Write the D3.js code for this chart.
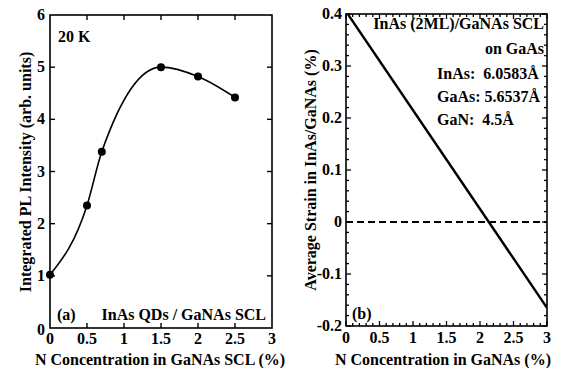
<!DOCTYPE html>
<html><head><meta charset="utf-8">
<script src="https://cdn.jsdelivr.net/npm/d3@7"></script>
<style>
body{margin:0;background:#fff;}
</style></head>
<body><svg id="c" width="567" height="368" font-family="Liberation Serif, serif" font-weight="bold"></svg>
<script>
// Panel (a) data
const plX = [0, 0.5, 0.7, 1.5, 2.0, 2.5];
const plY = [1.02, 2.35, 3.38, 5.0, 4.82, 4.42];
const aXTicks = [0, 0.5, 1, 1.5, 2, 2.5, 3];
const aYTicks = [0, 1, 2, 3, 4, 5, 6];
// Panel (b) data
const strainX = [0, 3];
const strainY = [0.405, -0.165];
const bXTicks = [0, 0.5, 1, 1.5, 2, 2.5, 3];
const bYTicks = [-0.2, -0.1, 0, 0.1, 0.2, 0.3, 0.4];
const bYLabels = ["-0.2", "-0.1", "0", "0.1", "0.2", "0.3", "0.4"];
const infoLines = ["InAs:  6.0583Å", "GaAs: 5.6537Å", "GaN:  4.5Å"];

const svg = d3.select("#c");
const fs = 16;

function frame(g, x, y) {
  const [x0, x1] = x.range(), [y0, y1] = y.range();
  g.append("rect").attr("x", x0).attr("y", y1).attr("width", x1 - x0).attr("height", y0 - y1)
    .attr("fill", "none").attr("stroke", "#000").attr("stroke-width", 1.6);
}

// ---------- Panel (a) ----------
{
  const x = d3.scaleLinear().domain([0, 3]).range([50, 272]);
  const y = d3.scaleLinear().domain([0, 6]).range([328, 15]);
  const g = svg.append("g");
  frame(g, x, y);
  const tk = 5;
  aXTicks.slice(1, -1).forEach(v => {
    g.append("line").attr("x1", x(v)).attr("x2", x(v)).attr("y1", y(0)).attr("y2", y(0) - tk).attr("stroke", "#000").attr("stroke-width", 1.4);
    g.append("line").attr("x1", x(v)).attr("x2", x(v)).attr("y1", y(6)).attr("y2", y(6) + tk).attr("stroke", "#000").attr("stroke-width", 1.4);
  });
  aYTicks.slice(1, -1).forEach(v => {
    g.append("line").attr("x1", x(0)).attr("x2", x(0) + tk).attr("y1", y(v)).attr("y2", y(v)).attr("stroke", "#000").attr("stroke-width", 1.4);
    g.append("line").attr("x1", x(3)).attr("x2", x(3) - tk).attr("y1", y(v)).attr("y2", y(v)).attr("stroke", "#000").attr("stroke-width", 1.4);
  });
  aXTicks.forEach(v => g.append("text").attr("x", x(v)).attr("y", y(0) + 16).attr("text-anchor", "middle").attr("font-size", fs).text(v));
  aYTicks.forEach(v => g.append("text").attr("x", x(0) - 5).attr("y", y(v) + 5 + (v === 0 ? 2 : 0)).attr("text-anchor", "end").attr("font-size", fs).text(v));
  g.append("text").attr("x", 160).attr("y", 365).attr("text-anchor", "middle").attr("font-size", fs).text("N Concentration in GaNAs SCL (%)");
  g.append("text").attr("transform", "translate(31," + 172 + ") rotate(-90)").attr("text-anchor", "middle").attr("font-size", fs).text("Integrated PL Intensity (arb. units)");
  const pts = plX.map((d, i) => [x(d), y(plY[i])]);
  g.append("path").attr("d", d3.line().curve(d3.curveMonotoneX)(pts))
    .attr("fill", "none").attr("stroke", "#000").attr("stroke-width", 1.6);
  g.selectAll("circle").data(pts).join("circle").attr("cx", d => d[0]).attr("cy", d => d[1]).attr("r", 4).attr("fill", "#000");
  g.append("text").attr("x", 58).attr("y", 42).attr("font-size", fs).text("20 K");
  g.append("text").attr("x", 57).attr("y", 320).attr("font-size", fs).text("(a)");
  g.append("text").attr("x", 266).attr("y", 320).attr("text-anchor", "end").attr("font-size", fs).text("InAs QDs / GaNAs SCL");
}

// ---------- Panel (b) ----------
{
  const x = d3.scaleLinear().domain([0, 3]).range([346, 547]);
  const y = d3.scaleLinear().domain([-0.2, 0.4]).range([326, 14]);
  const g = svg.append("g");
  const defs = svg.append("defs");
  defs.append("clipPath").attr("id", "clipb").append("rect").attr("x", x(0)).attr("y", y(0.4)).attr("width", x(3) - x(0)).attr("height", y(-0.2) - y(0.4));
  d3.range(0, 3.0001, 0.1).forEach(v => {
    const major = Math.abs(v * 2 - Math.round(v * 2)) < 1e-6;
    const L = major ? 5 : 3;
    g.append("line").attr("x1", x(v)).attr("x2", x(v)).attr("y1", y(-0.2)).attr("y2", y(-0.2) - L).attr("stroke", "#000").attr("stroke-width", 1.3);
    g.append("line").attr("x1", x(v)).attr("x2", x(v)).attr("y1", y(0.4)).attr("y2", y(0.4) + L).attr("stroke", "#000").attr("stroke-width", 1.3);
  });
  d3.range(-0.2, 0.4001, 0.02).forEach(v => {
    const major = Math.abs(v * 10 - Math.round(v * 10)) < 1e-6;
    const L = major ? 5 : 3;
    g.append("line").attr("x1", x(0)).attr("x2", x(0) + L).attr("y1", y(v)).attr("y2", y(v)).attr("stroke", "#000").attr("stroke-width", 1.3);
    g.append("line").attr("x1", x(3)).attr("x2", x(3) - L).attr("y1", y(v)).attr("y2", y(v)).attr("stroke", "#000").attr("stroke-width", 1.3);
  });
  frame(g, x, y);
  bXTicks.forEach(v => g.append("text").attr("x", x(v)).attr("y", y(-0.2) + 17).attr("text-anchor", "middle").attr("font-size", fs).text(v));
  bYTicks.forEach((v, i) => g.append("text").attr("x", x(0) - 4).attr("y", y(v) + 5).attr("text-anchor", "end").attr("font-size", fs).text(bYLabels[i]));
  g.append("text").attr("x", 443).attr("y", 365).attr("text-anchor", "middle").attr("font-size", fs).text("N Concentration in GaNAs (%)");
  g.append("text").attr("transform", "translate(316," + 170 + ") rotate(-90)").attr("text-anchor", "middle").attr("font-size", fs).text("Average Strain in InAs/GaNAs (%)");
  g.append("line").attr("x1", x(0)).attr("x2", x(3)).attr("y1", y(0)).attr("y2", y(0))
    .attr("stroke", "#000").attr("stroke-width", 1.8).attr("stroke-dasharray", "7,4");
  const pts = strainX.map((d, i) => [x(d), y(strainY[i])]);
  g.append("path").attr("d", d3.line()(pts)).attr("clip-path", "url(#clipb)")
    .attr("fill", "none").attr("stroke", "#000").attr("stroke-width", 2.4);
  g.append("text").attr("x", 544).attr("y", 29).attr("text-anchor", "end").attr("font-size", fs).text("InAs (2ML)/GaNAs SCL");
  g.append("text").attr("x", 544).attr("y", 54).attr("text-anchor", "end").attr("font-size", fs).text("on GaAs");
  infoLines.forEach((t, i) => g.append("text").attr("x", 437).attr("y", 79 + i * 23).attr("font-size", fs).style("white-space", "pre").text(t));
  g.append("text").attr("x", 352).attr("y", 319).attr("font-size", fs).text("(b)");
}
</script></body></html>
